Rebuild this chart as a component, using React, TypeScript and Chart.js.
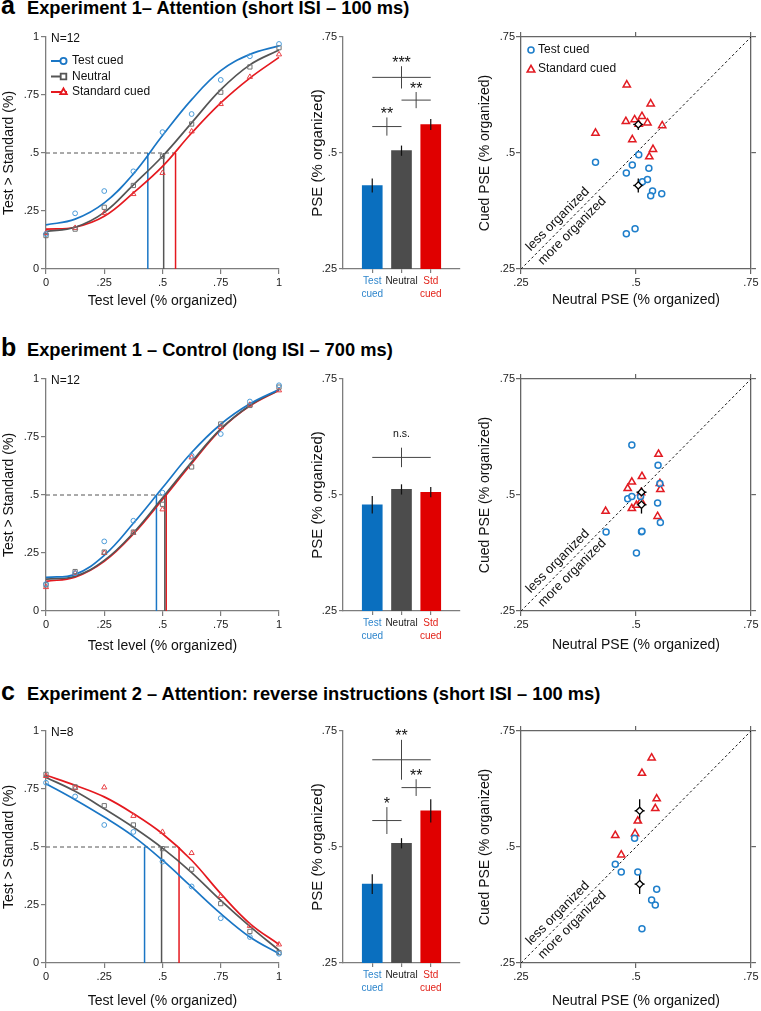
import React, { useEffect, useRef } from 'react';
import { Chart, registerables } from 'chart.js';

Chart.register(...registerables);

const FONT = "'Liberation Sans', Arial, Helvetica, sans-serif";
Chart.defaults.font.family = FONT;
Chart.defaults.color = '#111';

// ---------------- data ----------------
const testLevels = [0, 0.125, 0.25, 0.375, 0.5, 0.625, 0.75, 0.875, 1];
const levelTicks = [0, 0.25, 0.5, 0.75, 1];
const pseTicks = [0.25, 0.5, 0.75];
const conditionNames = ['Test cued', 'Neutral', 'Standard cued'];
const barLabels = [['Test', 'cued'], ['Neutral'], ['Std', 'cued']];
const scatterNames = ['Test cued', 'Standard cued'];
const diagonalLabels = ['less organized', 'more organized'];
const diagonalLabelPos = [[0.33, 0.357], [0.361, 0.332]];

const panelTitles = [
  'Experiment 1\u2013 Attention (short ISI \u2013 100 ms)',
  'Experiment 1 \u2013 Control (long ISI \u2013 700 ms)',
  'Experiment 2 \u2013 Attention: reverse instructions (short ISI \u2013 100 ms)',
];
const panelLetters = ['a', 'b', 'c'];
const sampleSizes = ['N=12', 'N=12', 'N=8'];

// Panel a – psychometric
const aPtsTest = [0.151, 0.24, 0.336, 0.421, 0.59, 0.668, 0.815, 0.917, 0.97];
const aPtsNeutral = [0.144, 0.172, 0.266, 0.36, 0.486, 0.625, 0.762, 0.871, 0.954];
const aPtsStd = [0.155, 0.177, 0.241, 0.323, 0.414, 0.593, 0.711, 0.828, 0.925];
const aFitTest = [0.19, 0.215, 0.285, 0.41, 0.575, 0.73, 0.855, 0.925, 0.962];
const aFitNeutral = [0.162, 0.18, 0.244, 0.363, 0.486, 0.63, 0.773, 0.88, 0.944];
const aFitStd = [0.172, 0.18, 0.227, 0.328, 0.442, 0.586, 0.716, 0.823, 0.912];
const aFitPse = [0.437, 0.505, 0.556];
// Panel a – PSE bars
const aPse = [0.43, 0.505, 0.5615];
const aPseErr = [0.015, 0.011, 0.012];
const aBrackets: [number, number, number, number, string][] = [
  [1, 2, 0.557, 0.0196, '**'],
  [2, 3, 0.614, 0.0174, '**'],
  [1, 3, 0.663, 0.024, '***'],
];
// Panel a – individual PSEs
const aTestX = [0.412, 0.506, 0.492, 0.479, 0.528, 0.514, 0.525, 0.536, 0.532, 0.556, 0.479, 0.498];
const aTestY = [0.48, 0.496, 0.474, 0.457, 0.467, 0.438, 0.443, 0.418, 0.408, 0.412, 0.326, 0.337];
const aStdX = [0.48, 0.532, 0.412, 0.478, 0.497, 0.513, 0.525, 0.557, 0.492, 0.537, 0.529, 0.506];
const aStdY = [0.647, 0.606, 0.543, 0.568, 0.572, 0.579, 0.565, 0.559, 0.529, 0.508, 0.492, 0.562];

// Panel b – psychometric
const bPtsTest = [0.116, 0.163, 0.3, 0.389, 0.51, 0.669, 0.763, 0.903, 0.973];
const bPtsNeutral = [0.113, 0.17, 0.254, 0.34, 0.46, 0.621, 0.806, 0.886, 0.965];
const bPtsStd = [0.103, 0.163, 0.25, 0.337, 0.438, 0.662, 0.792, 0.889, 0.951];
const bFitTest = [0.145, 0.158, 0.24, 0.378, 0.531, 0.683, 0.805, 0.893, 0.955];
const bFitNeutral = [0.137, 0.15, 0.218, 0.337, 0.488, 0.642, 0.785, 0.886, 0.953];
const bFitStd = [0.128, 0.146, 0.214, 0.332, 0.481, 0.636, 0.782, 0.884, 0.952];
const bFitPse = [0.474, 0.51, 0.516];
const bPse = [0.479, 0.512, 0.506];
const bPseErr = [0.019, 0.011, 0.011];
const bBrackets: [number, number, number, number, string][] = [[1, 3, 0.581, 0.021, 'n.s.']];
const bTestX = [0.491, 0.548, 0.552, 0.482, 0.491, 0.547, 0.553, 0.435, 0.512, 0.513, 0.501, 0.51];
const bTestY = [0.608, 0.564, 0.525, 0.492, 0.497, 0.483, 0.441, 0.42, 0.421, 0.422, 0.375, 0.497];
const bStdX = [0.549, 0.513, 0.491, 0.482, 0.552, 0.553, 0.434, 0.491, 0.501, 0.511, 0.547, 0.511];
const bStdY = [0.588, 0.54, 0.528, 0.514, 0.525, 0.512, 0.465, 0.471, 0.478, 0.487, 0.454, 0.505];

// Panel c – psychometric
const cPtsTest = [0.777, 0.718, 0.595, 0.565, 0.437, 0.33, 0.193, 0.112, 0.04];
const cPtsNeutral = [0.813, 0.759, 0.678, 0.595, 0.493, 0.404, 0.256, 0.136, 0.045];
const cPtsStd = [0.806, 0.754, 0.757, 0.634, 0.565, 0.474, 0.289, 0.16, 0.08];
const cFitTest = [0.773, 0.704, 0.629, 0.546, 0.443, 0.328, 0.213, 0.112, 0.04];
const cFitNeutral = [0.8, 0.74, 0.665, 0.585, 0.495, 0.39, 0.27, 0.158, 0.055];
const cFitStd = [0.809, 0.766, 0.716, 0.644, 0.557, 0.443, 0.299, 0.17, 0.08];
const cFitPse = [0.423, 0.496, 0.571];
const cPse = [0.42, 0.508, 0.578];
const cPseErr = [0.0215, 0.011, 0.025];
const cBrackets: [number, number, number, number, string][] = [
  [1, 2, 0.557, 0.029, '*'],
  [2, 3, 0.628, 0.018, '**'],
  [1, 3, 0.688, 0.043, '**'],
];
const cTestX = [0.497, 0.455, 0.468, 0.504, 0.545, 0.534, 0.542, 0.513];
const cTestY = [0.519, 0.463, 0.446, 0.446, 0.409, 0.386, 0.375, 0.324];
const cStdX = [0.534, 0.513, 0.545, 0.542, 0.504, 0.498, 0.455, 0.468];
const cStdY = [0.692, 0.659, 0.604, 0.583, 0.556, 0.529, 0.525, 0.483];

// ---------------- styles ----------------
const PSY_COLORS = ['#1a76c5', '#555555', '#e5191f'];
const PSY_POINT_COLORS = ['#4b9bd8', '#727272', '#e84045'];
const PSY_STYLES = ['circle', 'rect', 'triangle'];
const BAR_COLORS = ['#0a6fbf', '#4c4c4c', '#e00000'];
const BAR_LABEL_COLORS = ['#2f86cc', '#222222', '#e2231a'];
const SC_BLUE = '#1f7fcb';
const SC_RED = '#e21b22';
const AXIS = '#7d7d7d';
const FRAME = '#666666';

function fmt(v: number): string {
  if (v === 0) return '0';
  if (v === 1) return '1';
  return String(+v.toFixed(3)).replace(/^0\./, '.');
}

function drawMarker(ctx: CanvasRenderingContext2D, style: string, x: number, y: number, r: number, stroke: string, lw: number) {
  ctx.beginPath();
  if (style === 'circle') ctx.arc(x, y, r, 0, Math.PI * 2);
  else if (style === 'rect') ctx.rect(x - r, y - r, 2 * r, 2 * r);
  else {
    ctx.moveTo(x, y - r * 1.15);
    ctx.lineTo(x + r * 1.05, y + r * 0.7);
    ctx.lineTo(x - r * 1.05, y + r * 0.7);
    ctx.closePath();
  }
  ctx.fillStyle = '#fff';
  ctx.fill();
  ctx.strokeStyle = stroke;
  ctx.lineWidth = lw;
  ctx.stroke();
}

function seg(ctx: CanvasRenderingContext2D, x1: number, y1: number, x2: number, y2: number) {
  ctx.beginPath();
  ctx.moveTo(x1, y1);
  ctx.lineTo(x2, y2);
  ctx.stroke();
}

type AxisOpt = {
  pos: 'left' | 'bottom' | 'top' | 'right';
  min: number; max: number; ticks: number[]; size: number; color: string;
  labels: boolean; title?: string; titleSize?: number; titlePad?: number;
  tickLen: number; tickPad: number; tickFont?: number;
};

function linAxis(o: AxisOpt) {
  const horiz = o.pos === 'bottom' || o.pos === 'top';
  return {
    type: 'linear', position: o.pos, min: o.min, max: o.max,
    afterBuildTicks: (sc: any) => { sc.ticks = o.ticks.map((v) => ({ value: v })); },
    afterFit: (sc: any) => { if (horiz) sc.height = o.size; else sc.width = o.size; },
    ticks: {
      display: o.labels, callback: (v: number) => fmt(v), font: { size: o.tickFont || 11 },
      color: '#222', padding: o.tickPad, maxRotation: 0, autoSkip: false,
    },
    grid: { display: true, drawOnChartArea: false, drawTicks: true, tickLength: o.tickLen, color: o.color, lineWidth: 1.2 },
    border: { display: true, color: o.color, width: 1.3 },
    title: o.title
      ? {
          display: true, text: o.title, font: { size: o.titleSize }, color: '#111',
          padding: horiz ? { top: 0, bottom: o.titlePad } : { top: o.titlePad, bottom: 0 },
        }
      : { display: false },
  };
}

const baseOptions = {
  responsive: false,
  animation: false,
  devicePixelRatio: 1,
  events: [],
  plugins: { legend: { display: false }, tooltip: { enabled: false }, title: { display: false } },
};

// ---------------- psychometric panel ----------------
type PsychSpec = {
  top: number; bottom: number; points: number[][]; fits: number[][]; pse: number[];
  n: string; legend: boolean; titleOff: number;
};

function psychChart(s: PsychSpec) {
  const W = 292, areaL = 46, areaR = 279, padTop = 20, xH = 52;
  const H = s.bottom - s.top + padTop + xH;
  const datasets: any[] = [];
  s.points.forEach((arr, i) => datasets.push({
    data: testLevels.map((x, k) => ({ x, y: arr[k] })), showLine: false,
    pointStyle: PSY_STYLES[i], pointRadius: i === 0 ? 2.4 : 3,
    pointBorderWidth: 1, pointBorderColor: PSY_POINT_COLORS[i],
    pointBackgroundColor: 'rgba(255,255,255,0)', clip: false,
  }));
  s.fits.forEach((arr, i) => datasets.push({
    data: testLevels.map((x, k) => ({ x, y: arr[k] })), showLine: true,
    tension: 0.4, borderColor: PSY_COLORS[i], borderWidth: 1.7,
    pointRadius: 0, fill: false, clip: false,
  }));
  s.pse.forEach((p, i) => datasets.push({
    data: [{ x: p, y: 0 }, { x: p, y: 0.5 }], showLine: true,
    borderColor: PSY_COLORS[i], borderWidth: 1.5, pointRadius: 0,
  }));
  datasets.push({
    data: [{ x: 0, y: 0.5 }, { x: Math.max(...s.pse), y: 0.5 }], showLine: true,
    borderColor: '#555', borderWidth: 1, borderDash: [4, 3], pointRadius: 0,
  });

  const config: any = {
    type: 'scatter',
    data: { datasets },
    options: {
      ...baseOptions,
      layout: { padding: { left: 0, right: W - areaR, top: padTop, bottom: 0 } },
      scales: {
        x: linAxis({ pos: 'bottom', min: 0, max: 1, ticks: levelTicks, size: xH, color: AXIS, labels: true,
          title: 'Test level (% organized)', titleSize: 14, titlePad: xH - s.titleOff - 8.4, tickLen: 5, tickPad: 2.4 }),
        y: linAxis({ pos: 'left', min: 0, max: 1, ticks: levelTicks, size: areaL, color: AXIS, labels: true,
          title: 'Test > Standard (%)', titleSize: 14, titlePad: 0.6, tickLen: 5, tickPad: 2 }),
      },
    },
    plugins: [{
      id: 'psyExtras',
      afterDatasetsDraw(chart: any) {
        const { ctx, chartArea: a } = chart;
        ctx.save();
        ctx.fillStyle = '#111';
        ctx.font = `12px ${FONT}`;
        ctx.textBaseline = 'middle';
        ctx.textAlign = 'left';
        ctx.fillText(s.n, a.left + 5, a.top + 1.5);
        if (s.legend) {
          conditionNames.forEach((name, i) => {
            const y = a.top + 24 + i * 15.5;
            ctx.strokeStyle = PSY_COLORS[i];
            ctx.lineWidth = 2;
            seg(ctx, a.left + 5, y, a.left + 21, y);
            drawMarker(ctx, PSY_STYLES[i], a.left + 17.5, y, i === 1 ? 2.8 : 3.1, PSY_COLORS[i], 1.8);
            ctx.fillStyle = '#111';
            ctx.fillText(name, a.left + 26, y);
          });
        }
        ctx.restore();
      },
    }],
  };
  return { rect: { x: 0, y: s.top - padTop, w: W, h: H }, config };
}

// ---------------- bar panel ----------------
type BarSpec = { top: number; bottom: number; pse: number[]; err: number[]; brackets: [number, number, number, number, string][] };

function barChart(s: BarSpec) {
  const X = 309, W = 161, axisL = 343, axisR = 460, padTop = 20, xH = 40;
  const H = s.bottom - s.top + padTop + xH;
  const config: any = {
    type: 'bar',
    data: {
      datasets: [{
        data: s.pse.map((v, i) => ({ x: i + 1, y: v })),
        backgroundColor: BAR_COLORS, borderWidth: 0, barThickness: 20,
      }],
    },
    options: {
      ...baseOptions,
      layout: { padding: { left: 0, right: X + W - axisR, top: padTop, bottom: 0 } },
      scales: {
        x: {
          type: 'linear', position: 'bottom', min: 0, max: 4, offset: false,
          afterBuildTicks: (sc: any) => { sc.ticks = [1, 2, 3].map((v) => ({ value: v })); },
          afterFit: (sc: any) => { sc.height = xH; },
          ticks: {
            callback: (_v: number, i: number) => barLabels[i],
            color: (c: any) => BAR_LABEL_COLORS[c.index],
            font: { size: 10, lineHeight: 1.23 }, padding: 2.5, maxRotation: 0, autoSkip: false,
          },
          grid: { display: true, offset: false, drawOnChartArea: false, drawTicks: true, tickLength: 4, color: AXIS, lineWidth: 1.2 },
          border: { display: true, color: AXIS, width: 1.3 },
        },
        y: {
          ...linAxis({ pos: 'left', min: 0.25, max: 0.75, ticks: pseTicks, size: axisL - X, color: AXIS, labels: true,
            title: 'PSE (% organized)', titleSize: 15, titlePad: 0, tickLen: 4, tickPad: 2 }),
          beginAtZero: false,
        },
      },
    },
    plugins: [{
      id: 'barExtras',
      afterDatasetsDraw(chart: any) {
        const { ctx } = chart;
        const xs = chart.scales.x, ys = chart.scales.y;
        ctx.save();
        ctx.strokeStyle = '#111';
        ctx.lineWidth = 1.2;
        s.pse.forEach((v, i) => {
          const px = xs.getPixelForValue(i + 1);
          seg(ctx, px, ys.getPixelForValue(v - s.err[i]), px, ys.getPixelForValue(v + s.err[i]));
        });
        ctx.strokeStyle = '#444';
        ctx.lineWidth = 1;
        ctx.fillStyle = '#111';
        ctx.textAlign = 'center';
        ctx.textBaseline = 'alphabetic';
        s.brackets.forEach(([a, b, y, h, label]) => {
          const x1 = xs.getPixelForValue(a), x2 = xs.getPixelForValue(b), xm = (x1 + x2) / 2;
          const py = ys.getPixelForValue(y);
          const top = ys.getPixelForValue(y + h);
          seg(ctx, x1, py, x2, py);
          seg(ctx, xm, top, xm, ys.getPixelForValue(y - h));
          if (label === 'n.s.') {
            ctx.font = `10.5px ${FONT}`;
            ctx.fillText(label, xm, top - 10.6);
          } else {
            ctx.font = `16px ${FONT}`;
            ctx.fillText(label, xm, top + 1.5);
          }
        });
        ctx.restore();
      },
    }],
  };
  return { rect: { x: X, y: s.top - padTop, w: W, h: H }, config };
}

// ---------------- scatter panel ----------------
type ScatterSpec = {
  top: number; bottom: number; testX: number[]; testY: number[]; stdX: number[]; stdY: number[];
  pse: number[]; err: number[]; legend: boolean; titleOff: number;
};

function scatterChart(s: ScatterSpec) {
  const X = 470, W = 291, areaL = 521, areaR = 753, padTop = 14, x2H = 6, xH = 50;
  const H = s.bottom - s.top + padTop + x2H + xH;
  const datasets: any[] = [
    {
      data: [{ x: s.pse[1], y: s.pse[0] }, { x: s.pse[1], y: s.pse[2] }], showLine: false,
      pointStyle: 'rectRot', pointRadius: 3.6, pointBorderColor: '#000', pointBackgroundColor: '#fff',
      pointBorderWidth: 1.3, clip: false,
    },
    {
      data: s.testX.map((x, i) => ({ x, y: s.testY[i] })), showLine: false, pointStyle: 'circle',
      pointRadius: 3, pointBorderColor: SC_BLUE, pointBorderWidth: 1.5, pointBackgroundColor: 'rgba(255,255,255,0.6)',
    },
    {
      data: s.stdX.map((x, i) => ({ x, y: s.stdY[i] })), showLine: false, pointStyle: 'triangle',
      pointRadius: 4.2, pointBorderColor: SC_RED, pointBorderWidth: 1.5, pointBackgroundColor: 'rgba(255,255,255,0.6)',
    },
    {
      data: [{ x: pseTicks[0], y: pseTicks[0] }, { x: pseTicks[2], y: pseTicks[2] }], showLine: true,
      borderColor: '#111', borderWidth: 1, borderDash: [2.5, 2.5], pointRadius: 0,
    },
  ];
  const config: any = {
    type: 'scatter',
    data: { datasets },
    options: {
      ...baseOptions,
      layout: { padding: { left: 0, right: 0, top: padTop, bottom: 0 } },
      scales: {
        x: linAxis({ pos: 'bottom', min: 0.25, max: 0.75, ticks: pseTicks, size: xH, color: FRAME, labels: true,
          title: 'Neutral PSE (% organized)', titleSize: 14, titlePad: xH - s.titleOff - 8.4, tickLen: 5, tickPad: 2.4 }),
        y: linAxis({ pos: 'left', min: 0.25, max: 0.75, ticks: pseTicks, size: areaL - X, color: FRAME, labels: true,
          title: 'Cued PSE (% organized)', titleSize: 14, titlePad: 6.6, tickLen: 5, tickPad: 1 }),
        x2: linAxis({ pos: 'top', min: 0.25, max: 0.75, ticks: pseTicks, size: x2H, color: FRAME, labels: false, tickLen: 5, tickPad: 0 }),
        y2: linAxis({ pos: 'right', min: 0.25, max: 0.75, ticks: pseTicks, size: X + W - areaR, color: FRAME, labels: false, tickLen: 5, tickPad: 0 }),
      },
    },
    plugins: [{
      id: 'scExtras',
      beforeDatasetsDraw(chart: any) {
        const { ctx } = chart;
        const xs = chart.scales.x, ys = chart.scales.y;
        ctx.save();
        ctx.strokeStyle = '#000';
        ctx.lineWidth = 1.3;
        [0, 2].forEach((i) => {
          const cx = xs.getPixelForValue(s.pse[1]);
          const cy = ys.getPixelForValue(s.pse[i]);
          seg(ctx, xs.getPixelForValue(s.pse[1] - s.err[1]), cy, xs.getPixelForValue(s.pse[1] + s.err[1]), cy);
          seg(ctx, cx, ys.getPixelForValue(s.pse[i] - s.err[i]), cx, ys.getPixelForValue(s.pse[i] + s.err[i]));
        });
        ctx.restore();
      },
      afterDatasetsDraw(chart: any) {
        const { ctx, chartArea: a } = chart;
        const xs = chart.scales.x, ys = chart.scales.y;
        ctx.save();
        ctx.fillStyle = '#111';
        ctx.font = `13px ${FONT}`;
        ctx.textAlign = 'center';
        ctx.textBaseline = 'middle';
        diagonalLabels.forEach((t, i) => {
          ctx.save();
          ctx.translate(xs.getPixelForValue(diagonalLabelPos[i][0]), ys.getPixelForValue(diagonalLabelPos[i][1]));
          ctx.rotate(-Math.PI / 4);
          ctx.fillText(t, 0, 0);
          ctx.restore();
        });
        if (s.legend) {
          ctx.font = `12px ${FONT}`;
          ctx.textAlign = 'left';
          scatterNames.forEach((name, i) => {
            const y = a.top + 13 + i * 19;
            drawMarker(ctx, i === 0 ? 'circle' : 'triangle', a.left + 10, y + (i === 1 ? 0.5 : 0), i === 0 ? 3 : 3.6, i === 0 ? SC_BLUE : SC_RED, 1.6);
            ctx.fillStyle = '#111';
            ctx.fillText(name, a.left + 17, y);
          });
        }
        ctx.restore();
      },
    }],
  };
  return { rect: { x: X, y: s.top - padTop - x2H, w: W, h: H }, config };
}

// ---------------- panels ----------------
const rows = [
  { top: 37, bottom: 269, titleBase: 14.5, psyTitle: 32, scTitle: 31 },
  { top: 379, bottom: 611, titleBase: 356.5, psyTitle: 35, scTitle: 34 },
  { top: 731, bottom: 963, titleBase: 700.5, psyTitle: 38, scTitle: 38 },
];

const charts = [
  psychChart({ top: rows[0].top, bottom: rows[0].bottom, points: [aPtsTest, aPtsNeutral, aPtsStd], fits: [aFitTest, aFitNeutral, aFitStd], pse: aFitPse, n: sampleSizes[0], legend: true, titleOff: rows[0].psyTitle }),
  barChart({ top: rows[0].top, bottom: rows[0].bottom, pse: aPse, err: aPseErr, brackets: aBrackets }),
  scatterChart({ top: rows[0].top, bottom: rows[0].bottom, testX: aTestX, testY: aTestY, stdX: aStdX, stdY: aStdY, pse: aPse, err: aPseErr, legend: true, titleOff: rows[0].scTitle }),
  psychChart({ top: rows[1].top, bottom: rows[1].bottom, points: [bPtsTest, bPtsNeutral, bPtsStd], fits: [bFitTest, bFitNeutral, bFitStd], pse: bFitPse, n: sampleSizes[1], legend: false, titleOff: rows[1].psyTitle }),
  barChart({ top: rows[1].top, bottom: rows[1].bottom, pse: bPse, err: bPseErr, brackets: bBrackets }),
  scatterChart({ top: rows[1].top, bottom: rows[1].bottom, testX: bTestX, testY: bTestY, stdX: bStdX, stdY: bStdY, pse: bPse, err: bPseErr, legend: false, titleOff: rows[1].scTitle }),
  psychChart({ top: rows[2].top, bottom: rows[2].bottom, points: [cPtsTest, cPtsNeutral, cPtsStd], fits: [cFitTest, cFitNeutral, cFitStd], pse: cFitPse, n: sampleSizes[2], legend: false, titleOff: rows[2].psyTitle }),
  barChart({ top: rows[2].top, bottom: rows[2].bottom, pse: cPse, err: cPseErr, brackets: cBrackets }),
  scatterChart({ top: rows[2].top, bottom: rows[2].bottom, testX: cTestX, testY: cTestY, stdX: cStdX, stdY: cStdY, pse: cPse, err: cPseErr, legend: false, titleOff: rows[2].scTitle }),
];

function ChartCanvas({ rect, config }: { rect: { x: number; y: number; w: number; h: number }; config: any }) {
  const ref = useRef<HTMLCanvasElement>(null);
  useEffect(() => {
    const chart = new Chart(ref.current as HTMLCanvasElement, config);
    return () => chart.destroy();
  }, []);
  return (
    <canvas
      ref={ref}
      width={rect.w}
      height={rect.h}
      style={{ position: 'absolute', left: rect.x, top: rect.y, width: rect.w, height: rect.h }}
    />
  );
}

export default function App() {
  return (
    <div style={{ position: 'absolute', left: 0, top: 0, width: 761, height: 1011, background: '#fff', overflow: 'hidden', fontFamily: FONT }}>
      {rows.map((r, i) => (
        <React.Fragment key={i}>
          <div style={{ position: 'absolute', left: 1, top: r.titleBase - 21.2, fontSize: 25, lineHeight: '25px', fontWeight: 'bold', color: '#000', whiteSpace: 'nowrap' }}>
            {panelLetters[i]}
          </div>
          <div style={{ position: 'absolute', left: 27, top: r.titleBase - 15.5, fontSize: 18.3, lineHeight: '18.3px', fontWeight: 'bold', color: '#000', whiteSpace: 'nowrap' }}>
            {panelTitles[i]}
          </div>
        </React.Fragment>
      ))}
      {charts.map((c, i) => (
        <ChartCanvas key={i} rect={c.rect} config={c.config} />
      ))}
    </div>
  );
}
